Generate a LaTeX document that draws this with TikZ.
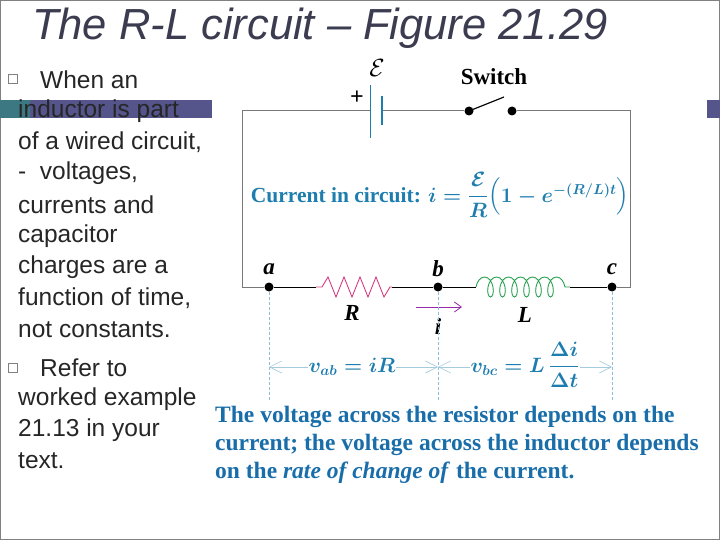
\documentclass[tikz,border=0pt]{standalone}
\usepackage{amsmath}
\usepackage{fontspec}
\setmainfont{Liberation Serif}
\newfontfamily\arial{Liberation Sans}
\usetikzlibrary{decorations.pathmorphing,arrows.meta}
\definecolor{figblue}{RGB}{30,125,175}
\definecolor{capblue}{RGB}{25,110,170}
\definecolor{titlec}{RGB}{60,60,80}
\definecolor{barp}{RGB}{85,85,140}
\definecolor{bart}{RGB}{60,120,130}
\definecolor{pinkr}{RGB}{215,60,130}
\definecolor{greenl}{RGB}{40,160,80}
\definecolor{wire}{RGB}{120,120,120}
\newcommand\formtext{\textcolor{figblue}{Current in circuit: \boldmath$i=\dfrac{\mathcal{E}}{R}\Bigl(1-e^{-(R/L)t}\Bigr)$}}
\newcommand\vbctext{\textcolor{figblue}{\boldmath$v_{bc}=L\,\dfrac{\Delta i}{\Delta t}$}}
\newcommand\vabtext{\textcolor{figblue}{\boldmath$v_{ab}=iR$}}
\begin{document}
\begin{tikzpicture}[x=1pt,y=-1pt,
  wirestyle/.style={draw=wire,line width=1pt},
  dotn/.style={circle,fill=black,inner sep=0pt,minimum size=9pt},
  lbl/.style={font=\bfseries\itshape\fontsize{23}{23}\selectfont},
  slide/.style={font=\arial\fontsize{24.5}{24.5}\selectfont,text=black!85,anchor=west,inner sep=0pt},
  dimline/.style={draw=figblue!50,densely dashed,line width=0.6pt}]
\useasboundingbox (0,0) rectangle (720,540);
\fill[white] (0,0) rectangle (720,540);
\draw[gray,line width=1pt] (0.5,0.5) rectangle (719.5,539.5);
% bars
\fill[bart] (0,100) rectangle (30,118);
\fill[barp] (30,100) rectangle (212,118);
\fill[barp] (707,100) rectangle (720,118);
% title
\node[font=\arial\itshape\fontsize{43.5}{43.5}\selectfont,text=titlec,anchor=west,inner sep=0] (title) at (32,28) {The R-L circuit – Figure 21.29};
% slide text
\draw[gray] (8,74) rectangle (17,83);
\node[slide] (t1) at (40,80) {When an};
\node[slide] (t2) at (18,111) {inductor is part};
\node[slide] (t3) at (18,142) {of a wired circuit,};
\node[slide] (t4) at (18,173) {- \ voltages,};
\node[slide] (t5) at (18,205) {currents and};
\node[slide] (t6) at (18,236) {capacitor};
\node[slide] (t7) at (18,267) {charges are a};
\node[slide] (t8) at (18,298) {function of time,};
\node[slide] (t9) at (18,330) {not constants.};
\draw[gray] (8,363) rectangle (17,372);
\node[slide] (t10) at (40,368) {Refer to};
\node[slide] (t11) at (18,399) {worked example};
\node[slide] (t12) at (18,430) {21.13 in your};
\node[slide] (t13) at (18,461) {text.};
% figure background
\fill[white] (212,55) rectangle (707,495);
% circuit
\coordinate (tl) at (242,111); \coordinate (tr) at (630,111);
\coordinate (bl) at (242,287); \coordinate (br) at (630,287);
\coordinate (bat1) at (370,111); \coordinate (bat2) at (382,111);
\node[dotn] (s1) at (469,111) {}; \node[dotn] (s2) at (512,111) {};
\node[dotn] (a) at (269,287) {}; \node[dotn] (b) at (438,287) {}; \node[dotn] (c) at (612,287) {};
\coordinate (r1) at (316,287); \coordinate (r2) at (392,287);
\coordinate (l1) at (476,287); \coordinate (l2) at (570,287);
\draw[wirestyle] (bat1) -- (tl) -- (bl) -- (a);
\draw[wirestyle] (bat2) -- (s1);
\draw[wirestyle] (s2) -- (tr) -- (br) -- (c);
\draw[figblue,line width=1pt] (370,85) -- (370,138);
\draw[figblue,line width=1.5pt] (382,96) -- (382,125);
\draw[line width=1.2pt] (s1.center) -- (504,97);
\draw[line width=0.8pt] (a) -- (r1) (r2) -- (b) -- (l1) (l2) -- (c);
\draw[pinkr,line width=0.9pt] (r1) -- (322,287) -- (328,277) -- (336,297) -- (344,277) -- (352,297) -- (360,277) -- (368,297) -- (376,277) -- (384,297) -- (390,287) -- (r2);
\draw[greenl,line width=0.9pt,decoration={coil,aspect=0.55,segment length=12pt,amplitude=10pt},decorate] (l1) -- (l2);
\node[font=\bfseries\fontsize{23}{23}\selectfont] (sw) at (494,77) {Switch};
\node[font=\fontsize{24}{24}\selectfont] (emf) at (377,68) {$\mathcal{E}$};
\node[font=\bfseries\fontsize{24}{24}\selectfont] (plus) at (357,98) {+};
\node[lbl] (la) at (269,269) {a};
\node[lbl] (lb) at (438,269) {b};
\node[lbl] (lc) at (612,269) {c};
\node[lbl] (lR) at (352,313) {R};
\node[lbl] (lL) at (525,315) {L};
\node[lbl] (li) at (438,327) {i};
\coordinate (i1) at (416,307); \coordinate (i2) at (462,307);
\draw[pinkr!70!blue,line width=0.8pt,-{Straight Barb[length=7pt,width=10pt]}] (i1) -- (i2);
% formula
\node[font=\bfseries\fontsize{21.5}{21.5}\selectfont] (cureq) at (440,195) {\formtext};
% dimension lines
\coordinate (ad) at (269,400); \coordinate (bd) at (438,400); \coordinate (cd) at (612,400);
\draw[dimline] (a) -- (ad); \draw[dimline] (b) -- (bd); \draw[dimline] (c) -- (cd);
\coordinate (am) at (269,367); \coordinate (bm) at (438,367); \coordinate (cm) at (612,367);
\draw[figblue!40,line width=0.6pt,{Straight Barb[length=12pt,width=12pt]}-{Straight Barb[length=12pt,width=12pt]}] (am) -- (bm);
\draw[figblue!40,line width=0.6pt,{Straight Barb[length=12pt,width=12pt]}-{Straight Barb[length=12pt,width=12pt]}] (bm) -- (cm);
\node[fill=white,inner sep=1pt,font=\fontsize{22}{22}\selectfont] (vab) at (352,367) {\vabtext};
\node[fill=white,inner sep=1pt,font=\fontsize{22}{22}\selectfont] (vbc) at (525,365) {\vbctext};
% caption
\node[text=capblue,font=\bfseries\fontsize{23.5}{28}\selectfont,anchor=north west,align=left,inner sep=0] (capt) at (215,406) {The voltage across the resistor depends on the\\current; the voltage across the inductor depends\\on the \textit{rate of change of} the current.};
\end{tikzpicture}
\end{document}
